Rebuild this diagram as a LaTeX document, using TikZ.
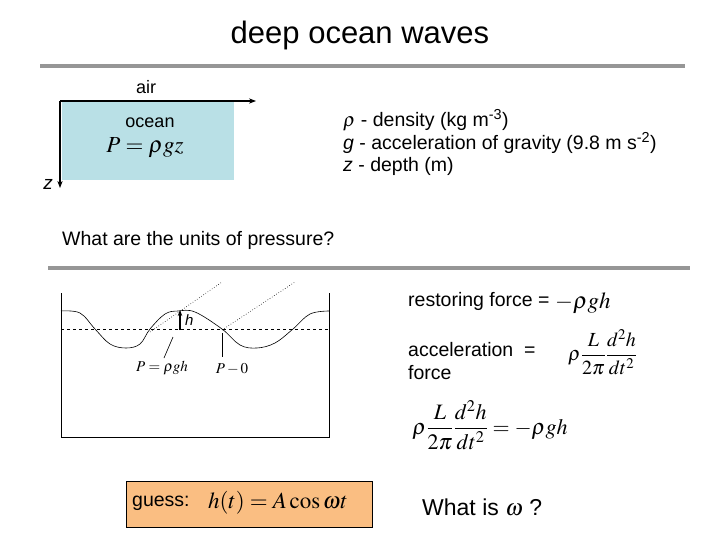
\documentclass[tikz,border=0pt]{standalone}
\usepackage{amsmath}
\usepackage{mathptmx}
\usepackage{fontspec}
\setmainfont{Liberation Sans}
\usetikzlibrary{arrows.meta}
\begin{document}
\begin{tikzpicture}[x=1pt,y=-1pt,
  txt/.style={inner sep=0pt,anchor=west,font=\fontsize{19.5}{22}\selectfont},
  bar/.style={line width=4pt,draw={rgb,255:red,150;green,150;blue,150}},
  lbl/.style={inner sep=0pt,font=\fontsize{15}{16}\selectfont}]
\useasboundingbox (0,0) rectangle (720,540);
\node[inner sep=0pt,font=\fontsize{31}{34}\selectfont] (title) at (360,35) {deep ocean waves};
\coordinate (b1a) at (40,66); \coordinate (b1b) at (685,66);
\draw[bar] (b1a) -- (b1b);
\node[txt,anchor=center,font=\fontsize{18}{20}\selectfont] (air) at (146,87) {air};
\fill[fill={rgb,255:red,185;green,224;blue,230}] (62,101) rectangle (234,180);
\coordinate (o) at (60,101); \coordinate (xe) at (256,101); \coordinate (ze) at (60,188);
\draw[line width=1.2pt,-{Stealth[length=7pt]}] (o) -- (xe);
\draw[line width=1.2pt,-{Stealth[length=7pt]}] (o) -- (ze);
\node[txt,anchor=center,font=\fontsize{18}{20}\selectfont] (ocean) at (150,123) {ocean};
\node[inner sep=0pt,font=\fontsize{23}{25}\selectfont] (pgz) at (145,148) {$P=\rho gz$};
\node[txt,anchor=center,font=\fontsize{19}{20}\selectfont\itshape] (z) at (48,184) {z};
\node[txt] (r1) at (343,120) {$\rho$ - density (kg m\textsuperscript{-3})};
\node[txt] (r2) at (343,143) {\textit{g} - acceleration of gravity (9.8 m s\textsuperscript{-2})};
\node[txt] (r3) at (343,166) {\textit{z} - depth (m)};
\node[txt] (q) at (62,240) {What are the units of pressure?};
\coordinate (b2a) at (48,268); \coordinate (b2b) at (690,268);
\draw[bar] (b2a) -- (b2b);
% tank
\coordinate (tl) at (61,293); \coordinate (tr) at (329,293);
\draw[line width=0.8pt] (tl) -- (61,437) -- (329,437) -- (tr);
\draw[dashed,line width=0.6pt] (61,329) -- (329,329);
\draw[line width=0.6pt] plot[smooth,tension=0.6] coordinates {(61,311) (80,313) (95,329) (110,344) (126,348) (140,344) (150,329) (165,314) (178,311) (195,312) (222,329) (240,345) (257,348) (275,343) (293,329) (310,314) (329,311)};
\draw[dotted,line width=0.6pt] (150,332) -- (222,282);
\draw[dotted,line width=0.6pt] (222,330) -- (295,282);
\coordinate (hb) at (180,330); \coordinate (ht) at (180,310);
\draw[line width=2pt,-{Stealth[length=6pt]}] (hb) -- (ht);
\node[lbl,anchor=west,font=\fontsize{15}{16}\selectfont\itshape] (h) at (185,320) {h};
\node[lbl] (p1) at (162,368) {$P=\rho gh$};
\node[lbl] (p0) at (232,369) {$P-0$};
\draw[line width=0.6pt] (173,337) -- (164,358);
\draw[line width=0.6pt] (222,333) -- (222,357);
% right
\node[txt] (rf) at (408,301) {restoring force =};
\node[inner sep=0pt,anchor=west,font=\fontsize{23}{25}\selectfont] (rf2) at (555,303) {$-\rho gh$};
\node[txt] (acc) at (408,350) {acceleration\ \ =};
\node[txt] (frc) at (408,373) {force};
\node[inner sep=0pt,anchor=west,font=\fontsize{20}{22}\selectfont] (af) at (568,352) {$\rho\dfrac{L}{2\pi}\dfrac{d^2h}{dt^2}$};
\node[inner sep=0pt,font=\fontsize{22}{24}\selectfont] (eq) at (490,425) {$\rho\dfrac{L}{2\pi}\dfrac{d^2h}{dt^2}=-\rho gh$};
\node[draw=black,line width=0.5pt,fill={rgb,255:red,250;green,190;blue,130},minimum width=246pt,minimum height=46pt,inner sep=0pt] (gbox) at (249,504) {};
\node[txt] (g) at (132,503) {guess:};
\node[inner sep=0pt,font=\fontsize{23}{24}\selectfont] (gh) at (278,503) {$h(t)=A\cos\omega t$};
\node[txt,anchor=west,font=\fontsize{23}{26}\selectfont] (w) at (422,507) {What is $\omega$ ?};
\end{tikzpicture}
\end{document}
